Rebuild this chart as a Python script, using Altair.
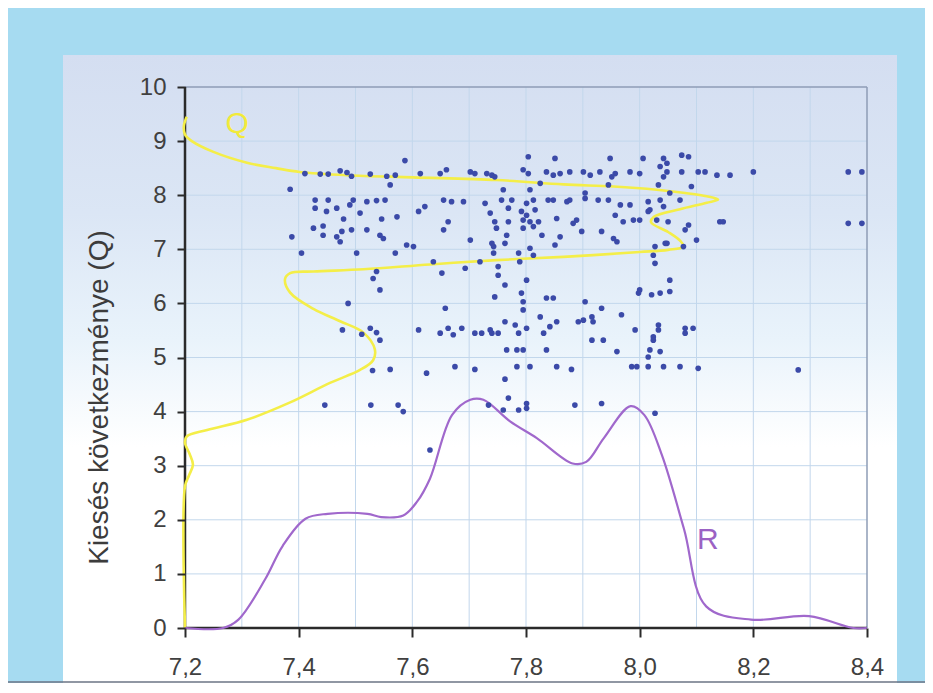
import altair as alt
import pandas as pd

# ---------------- data ----------------
# scatter points: x = valószínűség (R), y = kiesés következménye (Q)
pts_x = [
    7.587, 7.411, 7.438, 7.452, 7.473, 7.485, 7.493, 7.526, 7.555, 7.570, 7.561, 7.614, 7.385,
    7.429, 7.452, 7.496, 7.520, 7.537, 7.552, 7.429, 7.449, 7.467, 7.490, 7.508, 7.479, 7.546,
    7.573, 7.611, 7.622, 7.426, 7.443, 7.443, 7.388, 7.467, 7.476, 7.473, 7.493, 7.520, 7.543,
    7.549, 7.590, 7.602, 7.405, 7.502, 7.570, 7.537, 7.531, 7.543, 7.487, 7.477, 7.511, 7.526,
    7.537, 7.543, 7.611, 7.530, 7.561, 7.625, 7.446, 7.527, 7.575, 7.584,
    7.804, 7.851, 7.948, 8.006, 8.042, 7.649, 7.660, 7.702, 7.710, 7.731, 7.740, 7.745, 7.795,
    7.804, 7.836, 7.848, 7.860, 7.877, 7.901, 7.913, 7.930, 7.957, 7.951, 7.983, 8.000, 8.036,
    8.048, 8.042, 7.825, 7.945, 8.033, 7.760, 7.807, 7.904, 7.655, 7.669, 7.690, 7.728, 7.757,
    7.775, 7.801, 7.813, 7.839, 7.848, 7.872, 7.877, 7.904, 7.927, 7.945, 7.966, 7.983, 8.015,
    8.036, 8.042, 7.737, 7.769, 7.792, 7.801, 7.816, 7.854, 7.889, 7.883, 7.957, 7.971, 7.989,
    8.000, 8.015, 8.030, 8.050, 7.663, 7.655, 7.745, 7.748, 7.769, 7.795, 7.807, 7.822, 7.795,
    7.813, 7.766, 7.828, 7.860, 7.898, 7.933, 7.954, 7.960, 7.702, 7.740, 7.743, 7.763, 7.787,
    7.807, 7.813, 7.851, 7.743, 7.789, 7.719, 7.637, 7.693, 8.027, 8.024, 8.027, 8.048, 7.751,
    7.751, 7.652, 7.763, 7.801, 7.745, 7.792, 7.795, 7.795, 7.836, 7.848, 7.904, 8.000, 7.998,
    8.021, 8.036, 8.053, 7.658, 7.933, 7.968, 7.825, 7.763, 7.854, 7.842, 7.892, 7.901, 7.916,
    7.918, 7.781, 7.801, 7.649, 7.663, 7.672, 7.687, 7.710, 7.722, 7.737, 7.740, 7.751, 7.787,
    7.831, 7.992, 8.033, 8.033, 8.024, 8.024, 7.916, 7.936, 7.766, 7.784, 7.795, 7.836, 7.960,
    8.018, 8.036, 8.015, 7.675, 7.710, 7.784, 7.807, 7.854, 7.880, 7.986, 7.995, 8.015, 8.042,
    7.763, 7.769, 7.734, 7.801, 7.801, 7.760, 7.787, 7.886, 7.933, 8.027,
    8.074, 8.086, 8.048, 8.074, 8.103, 8.115, 8.136, 8.159, 8.200, 8.367, 8.391, 8.091, 8.053,
    8.018, 8.071, 8.141, 8.147, 8.086, 8.080, 8.100, 8.367, 8.391, 8.045, 8.077, 8.053, 8.080,
    8.094, 8.080, 8.071, 8.103, 8.279, 7.631,
]
pts_y = [
    8.64, 8.40, 8.39, 8.39, 8.45, 8.42, 8.35, 8.39, 8.35, 8.37, 8.19, 8.40, 8.11,
    7.91, 7.91, 7.91, 7.88, 7.90, 7.91, 7.76, 7.70, 7.76, 7.82, 7.67, 7.56, 7.56,
    7.60, 7.70, 7.79, 7.39, 7.43, 7.26, 7.23, 7.23, 7.33, 7.14, 7.36, 7.36, 7.26,
    7.20, 7.08, 7.05, 6.93, 6.93, 6.93, 6.59, 6.46, 6.25, 6.00, 5.51, 5.43, 5.54,
    5.46, 5.32, 5.51, 4.76, 4.78, 4.71, 4.12, 4.12, 4.12, 4.00,
    8.71, 8.68, 8.68, 8.68, 8.68, 8.40, 8.47, 8.43, 8.40, 8.40, 8.37, 8.34, 8.47,
    8.40, 8.43, 8.37, 8.40, 8.43, 8.43, 8.37, 8.43, 8.40, 8.34, 8.43, 8.40, 8.53,
    8.43, 8.34, 8.22, 8.19, 8.19, 8.10, 8.10, 8.04, 7.91, 7.88, 7.88, 7.85, 7.91,
    7.91, 7.85, 7.91, 7.91, 7.91, 7.88, 7.91, 7.94, 7.91, 7.91, 7.82, 7.82, 7.88,
    7.91, 7.79, 7.67, 7.76, 7.70, 7.63, 7.73, 7.57, 7.54, 7.48, 7.63, 7.51, 7.54,
    7.54, 7.70, 7.54, 7.51, 7.51, 7.36, 7.51, 7.39, 7.51, 7.54, 7.51, 7.51, 7.39,
    7.42, 7.26, 7.26, 7.23, 7.33, 7.33, 7.20, 7.14, 7.17, 7.11, 7.05, 7.11, 6.93,
    7.02, 6.89, 7.08, 6.93, 6.77, 6.77, 6.77, 6.65, 7.05, 6.89, 6.74, 7.11, 6.68,
    6.52, 6.56, 6.34, 6.43, 6.12, 6.19, 6.03, 5.88, 6.10, 6.10, 6.03, 6.25, 6.19,
    6.16, 6.19, 6.22, 5.91, 5.91, 5.79, 5.75, 5.66, 5.66, 5.57, 5.66, 5.69, 5.75,
    5.66, 5.60, 5.54, 5.45, 5.54, 5.42, 5.54, 5.45, 5.45, 5.51, 5.45, 5.45, 5.45,
    5.45, 5.51, 5.60, 5.51, 5.38, 5.32, 5.32, 5.32, 5.14, 5.14, 5.14, 5.14, 5.11,
    5.14, 5.11, 5.01, 4.83, 4.78, 4.83, 4.83, 4.83, 4.78, 4.83, 4.83, 4.83, 4.83,
    4.60, 4.25, 4.12, 4.15, 4.06, 4.03, 4.03, 4.12, 4.15, 3.97,
    8.74, 8.71, 8.59, 8.43, 8.43, 8.43, 8.37, 8.37, 8.43, 8.43, 8.43, 8.16, 8.04,
    7.73, 7.91, 7.51, 7.51, 7.45, 7.36, 7.17, 7.48, 7.48, 7.11, 7.05, 6.43, 5.54,
    5.54, 5.45, 4.83, 4.80, 4.77, 3.29,
]

# R curve (density along the x axis)
r_x = [7.200, 7.267, 7.294, 7.341, 7.372, 7.412, 7.451, 7.521, 7.545, 7.584, 7.608, 7.631,
       7.670, 7.702, 7.725, 7.772, 7.819, 7.882, 7.906, 7.937, 7.984, 8.008, 8.039, 8.078,
       8.117, 8.196, 8.298, 8.376, 8.400]
r_y = [0.00, 0.00, 0.155, 0.90, 1.52, 2.02, 2.11, 2.11, 2.05, 2.08, 2.33, 2.76,
       3.94, 4.22, 4.22, 3.82, 3.51, 3.04, 3.07, 3.51, 4.10, 3.94, 3.20, 1.83,
       0.40, 0.155, 0.22, 0.00, 0.00]

# Q curve (density along the y axis, drawn from the left axis)
q_x = [7.203, 7.198, 7.200, 7.212, 7.250, 7.309, 7.360, 7.402, 7.485, 7.601, 7.748, 7.866,
       7.954, 8.030, 8.080, 8.118, 8.138, 8.118, 8.071, 8.025, 8.020, 8.050, 8.072, 8.077,
       8.050, 8.000, 7.866, 7.748, 7.631, 7.514, 7.426, 7.385, 7.376, 7.385, 7.426, 7.473,
       7.514, 7.534, 7.531, 7.508, 7.455, 7.385, 7.309, 7.239, 7.203, 7.200, 7.208, 7.214,
       7.207, 7.200, 7.200]
q_y = [9.45, 9.28, 9.12, 9.00, 8.80, 8.60, 8.50, 8.43, 8.37, 8.33, 8.28, 8.20,
       8.16, 8.10, 8.04, 7.98, 7.92, 7.86, 7.74, 7.60, 7.50, 7.32, 7.15, 7.05,
       6.99, 6.95, 6.86, 6.80, 6.72, 6.63, 6.59, 6.56, 6.45, 6.20, 5.90, 5.67,
       5.46, 5.15, 4.95, 4.77, 4.53, 4.17, 3.85, 3.66, 3.54, 3.42, 3.22, 3.02,
       2.82, 2.62, 0.00]

x_ticks = [7.2, 7.4, 7.6, 7.8, 8.0, 8.2, 8.4]
y_ticks = [0, 1, 2, 3, 4, 5, 6, 7, 8, 9, 10]
grid_x = [7.3, 7.4, 7.5, 7.6, 7.7, 7.8, 7.9, 8.0, 8.1, 8.2, 8.3]
grid_y = [1, 2, 3, 4, 5, 6, 7, 8, 9]
frame_x = [8.4]
frame_y = [10]
axis_x = [7.2]
axis_y = [0]

labels_txt = ["Q", "R"]
labels_x = [7.292, 8.120]
labels_y = [9.32, 1.62]

# ---------------- chart ----------------
W, H = 682, 541
FONT = "Liberation Sans"

xs = alt.Scale(domain=[7.2, 8.4], nice=False, zero=False)
ys = alt.Scale(domain=[0, 10], nice=False, zero=False)

x_axis = alt.Axis(values=x_ticks, title=None, grid=False, domain=False,
                  labelExpr="replace(format(datum.value, '.1f'), '.', ',')",
                  labelFlush=False, labelOverlap=False, labelPadding=18, tickSize=9,
                  zindex=1)
y_axis = alt.Axis(values=y_ticks, title="Kiesés következménye (Q)", grid=False, domain=False,
                  format="d", labelPadding=11, tickSize=8, labelOverlap=False,
                  titleFont=FONT, titleFontSize=28, titleFontWeight="normal",
                  titleColor="#3c3c3c", titleAngle=270, titleAlign="center",
                  titleBaseline="alphabetic", titleX=-78, titleY=310, zindex=1)

X = alt.X("x:Q", scale=xs, axis=x_axis)
Y = alt.Y("y:Q", scale=ys, axis=y_axis)

panel = alt.Chart(pd.DataFrame({"k": [0]})).mark_rect(
    fill=alt.Gradient(
        gradient="linear", x1=0, x2=0, y1=0, y2=1,
        stops=[alt.GradientStop(color="#d4def1", offset=0.0),
               alt.GradientStop(color="#dbe6f5", offset=0.25),
               alt.GradientStop(color="#e9f3fb", offset=0.45),
               alt.GradientStop(color="#ffffff", offset=0.62),
               alt.GradientStop(color="#ffffff", offset=1.0)]),
).encode(x=alt.value(-122), x2=alt.value(712), y=alt.value(-32), y2=alt.value(600))

bottom_line = alt.Chart(pd.DataFrame({"k": [0]})).mark_rule(
    color="#6b7585", strokeWidth=1.5
).encode(x=alt.value(-177), x2=alt.value(740), y=alt.value(595))

gx = alt.Chart(pd.DataFrame({"x": grid_x})).mark_rule(color="#c2d7ec", strokeWidth=1).encode(x=X)
gy = alt.Chart(pd.DataFrame({"y": grid_y})).mark_rule(color="#c2d7ec", strokeWidth=1).encode(y=Y)
fx = alt.Chart(pd.DataFrame({"x": frame_x})).mark_rule(color="#8e9db6", strokeWidth=1.5).encode(x=X)
fy = alt.Chart(pd.DataFrame({"y": frame_y})).mark_rule(color="#8e9db6", strokeWidth=1.5).encode(y=Y)
ax = alt.Chart(pd.DataFrame({"x": axis_x})).mark_rule(color="#2a2a2a", strokeWidth=2.5).encode(x=X)
ay = alt.Chart(pd.DataFrame({"y": axis_y})).mark_rule(color="#2a2a2a", strokeWidth=2.5).encode(y=Y)

q_df = pd.DataFrame({"x": q_x, "y": q_y, "i": list(range(len(q_x)))})
r_df = pd.DataFrame({"x": r_x, "y": r_y, "i": list(range(len(r_x)))})

q_line = alt.Chart(q_df).mark_line(color="#f4ee48", strokeWidth=2.6, interpolate="catmull-rom").encode(
    x=X, y=Y, order="i:Q")
r_line = alt.Chart(r_df).mark_line(color="#a068cc", strokeWidth=2.2, interpolate="catmull-rom").encode(
    x=X, y=Y, order="i:Q")

points = alt.Chart(pd.DataFrame({"x": pts_x, "y": pts_y})).mark_circle(
    size=32, color="#3b4aa8", opacity=1).encode(x=X, y=Y)

lab_df = pd.DataFrame({"x": labels_x, "y": labels_y, "t": labels_txt})
labels = alt.Chart(lab_df).mark_text(font=FONT, fontSize=30, baseline="middle", align="center").encode(
    x=X, y=Y, text="t:N",
    color=alt.Color("t:N", scale=alt.Scale(domain=labels_txt, range=["#f2ea3a", "#9b62c4"]), legend=None))

chart = alt.layer(panel, bottom_line, gx, gy, fx, fy, ax, ay, q_line, r_line, points, labels).properties(
    width=W, height=H,
    padding={"left": 177, "top": 79, "right": 58, "bottom": 55},
    autosize=alt.AutoSizeParams(type="none"),
    background="#a6dbf1",
).configure_view(stroke=None).configure_axis(
    labelFont=FONT, labelFontSize=24, labelColor="#404040",
    tickColor="#2a2a2a", tickWidth=2,
)

chart.save("out.html", embed_options={"renderer": "svg", "actions": False})
